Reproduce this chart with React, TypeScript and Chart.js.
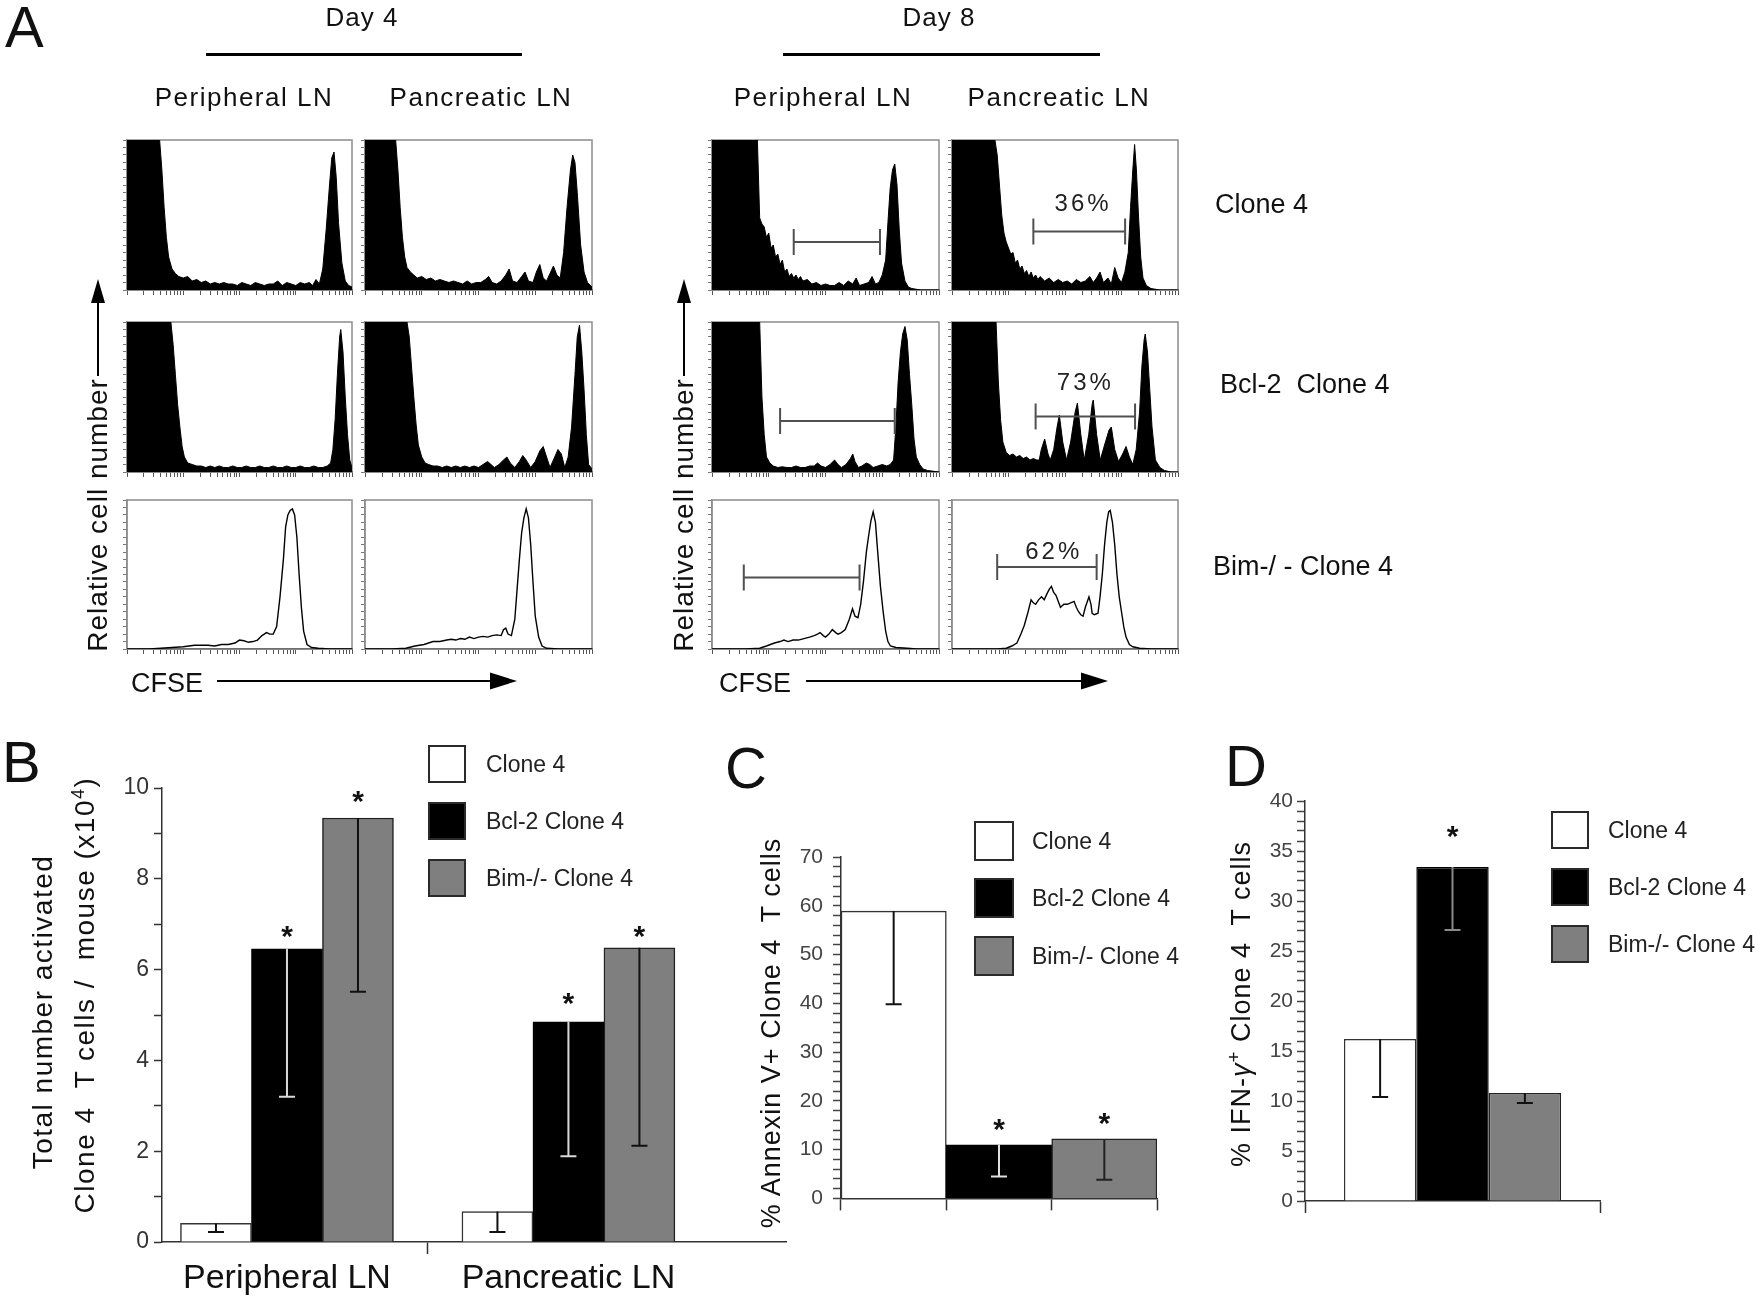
import React, { useEffect, useRef } from 'react';
import { Chart, registerables } from 'chart.js';

Chart.register(...registerables);

const FONT = '"Liberation Sans", Arial, Helvetica, sans-serif';
Chart.defaults.font.family = FONT;
Chart.defaults.color = '#333';

type Pt = [number, number];

// ---------------- Panel A: CFSE histograms ----------------
// [CFSE position (% of axis), relative cell number (% of frame height)]
const day4PeripheralClone4: Pt[] = [[0,100],[13.5,100],[14.5,100],[15.5,80],[16.5,55],[17.5,35],[18.5,22],[20,14],[21.5,11],[23,9],[25,8],[27,9],[29,6],[31,7],[33,5],[35,6],[37,4],[39,5],[41,4],[43,5],[45,4],[47,4],[49,3],[51,5],[53,4],[55,3],[57,5],[59,4],[61,3],[63,4],[65,4],[67,6],[69,3],[71,5],[73,4],[75,3],[77,5],[79,4],[81,5],[82.5,3],[84,7],[85.5,4],[87,14],[88.5,40],[90,70],[91,88],[92,92],[93,75],[94,45],[95.5,18],[97,6],[98.5,3],[100,2]];
const day4PancreaticClone4: Pt[] = [[0,100],[13.5,100],[14.5,80],[15.5,55],[16.5,35],[17.5,22],[18.5,15],[20,12],[21.5,10],[23,8],[25,9],[27,7],[29,8],[31,6],[33,7],[35,6],[37,5],[39,6],[41,5],[43,4],[45,6],[47,4],[49,5],[51,5],[53,7],[54.5,9],[56,5],[58,4],[60,6],[62,10],[63.5,14],[65,6],[67,5],[69,9],[70.5,12],[72,6],[74,5],[75.5,12],[77,17],[78.5,8],[80,6],[81.5,11],[83,16],[84.5,10],[86,8],[87.5,25],[89,55],[90.5,80],[91.5,90],[92.5,85],[93.5,65],[95,30],[96.5,12],[98,5],[100,2]];
const day4PeripheralBcl2: Pt[] = [[0,100],[19.5,100],[20.5,85],[21.5,65],[22.5,45],[23.5,30],[24.5,17],[25.5,10],[27,6],[29,5],[31,4],[33,4],[35,3],[37,4],[39,3],[41,4],[43,3],[45,3],[47,4],[49,3],[51,3],[53,4],[55,3],[57,3],[59,4],[61,3],[63,3],[65,4],[67,3],[69,3],[71,4],[73,3],[75,3],[77,4],[79,3],[81,3],[83,4],[85,3],[87,3],[89,4],[90.5,6],[91.5,15],[92.5,35],[93.5,65],[94.5,90],[95,95],[96,80],[97,50],[98,25],[99,8],[100,3]];
const day4PancreaticBcl2: Pt[] = [[0,100],[18.5,100],[19.5,90],[20.5,70],[21.5,50],[22.5,32],[23.5,18],[25,10],[26.5,6],[28,5],[30,4],[32,4],[34,3],[36,4],[38,3],[40,4],[42,3],[44,4],[46,3],[48,4],[50,3],[52,5],[54,7],[55.5,5],[57,3],[59,5],[61,8],[62.5,10],[64,6],[66,3],[68,7],[69.5,11],[71,8],[73,3],[75,7],[77,14],[78.5,17],[80,10],[81.5,3],[83,8],[85,15],[86.5,12],[88,3],[89.5,10],[91,30],[92.5,65],[93.5,90],[94.5,98],[95.5,80],[96.5,55],[97.5,25],[98.5,5],[100,2]];
const day4PeripheralBim: Pt[] = [[0,0],[10,0],[15,0.5],[20,1],[25,1.5],[30,2.5],[33,2.5],[36,2.5],[39,2],[42,3],[45,3],[48,4],[50,6],[52,5.5],[54,4.5],[56,5],[58,6],[60,9],[62,11],[63.5,10],[65,10],[66.5,15],[68,35],[69.5,60],[70.5,82],[71.5,90],[72.5,93],[73.5,94],[74.5,90],[75.5,75],[76.5,50],[77.5,28],[78.5,12],[80,3],[82,1],[85,0.5],[90,0],[100,0]];
const day4PancreaticBim: Pt[] = [[0,0],[12,0],[18,0.5],[22,2],[26,3],[30,5],[33,5],[36,6],[38,6.5],[40,6],[42,7],[44,6.5],[46,8],[48,7],[50,8],[52,8.5],[54,8],[56,9],[58,9.5],[60,9],[61,13],[62,14],[63,10],[64.5,9],[66,20],[67,40],[68,60],[69,78],[70,88],[71,94],[72,88],[73,70],[74,45],[75,22],[76.5,8],[78,2],[80,0.5],[85,0],[100,0]];
const day8PeripheralClone4: Pt[] = [[0,100],[19,100],[20,100],[21,48],[22,44],[23,42],[24,35],[25,38],[26,28],[27,30],[28,22],[29,24],[30,17],[31,20],[32,12],[33,14],[34,9],[35,11],[36,8],[37,10],[38,7],[39,9],[40,6],[42,7],[44,4],[46,5],[48,3],[50,4],[52,3],[54,3],[56,5],[58,3],[60,6],[62,4],[63.5,8],[65,3],[67,4],[69,5],[70.5,9],[72,4],[73.5,5],[75,10],[76.5,20],[77.5,45],[78.5,68],[79.5,80],[80.5,84],[81.5,70],[82.5,40],[83.5,18],[85,6],[86.5,2],[88,1],[92,0],[100,0]];
const day8PancreaticClone4: Pt[] = [[0,100],[19,100],[20,90],[21,70],[22,50],[23,38],[24,32],[25,28],[26,24],[27,25],[28,18],[29,20],[30,14],[31,16],[32,11],[33,13],[34,9],[35,12],[36,8],[37,10],[38,7],[39,9],[41,6],[43,8],[45,5],[47,7],[49,5],[51,6],[53,4],[55,7],[57,5],[59,6],[61,9],[62.5,5],[64,8],[65.5,12],[67,5],[69,8],[70.5,4],[72,15],[73.5,8],[75,5],[76.5,12],[78,25],[79,55],[80,80],[80.8,97],[81.6,80],[82.5,50],[83.5,22],[84.5,8],[86,3],[88,1],[92,0],[100,0]];
const day8PeripheralBcl2: Pt[] = [[0,100],[20,100],[21,100],[22,50],[23,25],[24,10],[25.5,6],[27,4],[29,3],[31,3.5],[33,3],[35,3],[37,4],[39,3],[41,3],[43,4],[45,4],[46.5,6],[48,4],[50,3],[52,5],[54,8],[55.5,5],[57,3],[59,5],[61,9],[62,12],[63,7],[64.5,3],[66,4],[68,6],[69.5,5],[71,3],[73,4],[75,5],[77,4],[78.5,5],[80,8],[81,30],[82,60],[83,80],[84,92],[85,97],[86,88],[87,65],[88,45],[89,22],[90,10],[91.5,5],[93,2],[95,1],[100,0]];
const day8PancreaticBcl2: Pt[] = [[0,100],[19.5,100],[20.5,60],[21.5,35],[22.5,20],[24,13],[25.5,11],[27,12],[28.5,10],[30,11],[31.5,9],[33,10],[34.5,8],[36,9],[37.5,8],[38.6,8],[39.5,15],[41,22],[42.5,12],[43.5,8],[45,15],[46.5,30],[47.5,38],[49,20],[50.7,8],[52.5,20],[54.5,40],[55.5,46],[57,25],[58.5,8],[60.5,25],[62,45],[62.5,48],[64,25],[65.6,8],[67.5,18],[69.5,28],[70.5,30],[72,15],[73.7,7],[75.5,12],[77,17],[78.5,10],[80,5],[81.5,15],[83,40],[84,70],[85,88],[85.5,92],[86.5,80],[87.5,55],[88.5,30],[90,8],[92,3],[94,1],[97,0],[100,0]];
const day8PeripheralBim: Pt[] = [[0,0],[15,0],[21,0.5],[24,2],[27.5,4],[30,5],[31.7,6],[33.5,5],[35.7,6],[38,6],[40.5,7],[43,8],[45,9],[46.5,10],[47.6,11],[49,9],[50,8],[51.5,10],[53,13],[54.5,11],[55.5,10],[57,11],[58.7,13],[60.5,20],[61.9,27],[63,22],[64.3,21],[65.5,30],[66.7,45],[68,65],[69,76],[70,86],[71,92],[72,85],[73,65],[74.2,42],[75.4,25],[76.5,12],[77.5,5],[78.6,2],[81,1],[86,0.5],[90,0],[100,0]];
const day8PancreaticBim: Pt[] = [[0,0],[20,0],[24,0.5],[26.5,2],[28.7,4],[30.5,10],[32,16],[33.5,24],[35,33],[36,31],[37,30],[38.3,33],[39.6,35],[40.8,33],[42,37],[43,40],[44,42],[45,38],[46,36],[47,32],[48,28],[49.5,30],[51,30],[52.5,31],[54,32],[55,28],[56,25],[57,23],[58,22],[59,28],[60.6,35],[61.5,30],[62,24],[63,23],[64.6,24],[65.5,35],[66.5,50],[67.5,70],[68.5,85],[69.3,92],[70,93],[71,85],[72,70],[73,50],[74,35],[75,25],[76,15],[77,8],[78.5,3],[80,1.5],[83,0.5],[88,0],[100,0]];

interface Gate { from: number; to: number; level: number; label: string; labelX: number; labelY: number }
const day8PeripheralClone4Gate: Gate = { from: 36, to: 74, level: 32, label: '', labelX: 0, labelY: 0 };
const day8PancreaticClone4Gate: Gate = { from: 36, to: 76.6, level: 39, label: '36%', labelX: 58, labelY: 57 };
const day8PeripheralBcl2Gate: Gate = { from: 30, to: 80.5, level: 34, label: '', labelX: 0, labelY: 0 };
const day8PancreaticBcl2Gate: Gate = { from: 37, to: 81, level: 37, label: '73%', labelX: 59, labelY: 59 };
const day8PeripheralBimGate: Gate = { from: 14, to: 65, level: 48, label: '', labelX: 0, labelY: 0 };
const day8PancreaticBimGate: Gate = { from: 20, to: 64, level: 55, label: '62%', labelX: 45, labelY: 65 };

// ---------------- Panel B ----------------
const bLocations = ['Peripheral LN', 'Pancreatic LN'];
const bClone4 = [0.41, 0.67];
const bClone4Low = [0.22, 0.22];
const bBcl2 = [6.46, 4.85];
const bBcl2Low = [3.2, 1.89];
const bBim = [9.34, 6.48];
const bBimLow = [5.51, 2.12];
const bBcl2Star = [6.9, 5.41];
const bBimStar = [9.88, 6.9];

// ---------------- Panel C ----------------
const cGroups = ['Clone 4', 'Bcl-2 Clone 4', 'Bim-/- Clone 4'];
const cValues = [58.9, 11.0, 12.2];
const cLow = [39.8, 4.5, 3.8];
const cStars = [null, 15.6, 16.9];

// ---------------- Panel D ----------------
const dCategory = [''];
const dClone4 = [16.2];
const dClone4Low = [10.4];
const dBcl2 = [33.4];
const dBcl2Low = [27.1];
const dBim = [10.8];
const dBimLow = [9.8];
const dBcl2Star = [37.2];

const legendLabels = ['Clone 4', 'Bcl-2 Clone 4', 'Bim-/- Clone 4'];

// log-decade tick marks for the CFSE axis (4 decades)
const cfseTicks: number[] = [];
for (let d = 0; d < 4; d++) for (let m = 1; m < 10; m++) cfseTicks.push(25 * (d + Math.log10(m)));
cfseTicks.push(100);

// ---------------- plugins ----------------
const framePlugin = {
  id: 'frame',
  beforeDatasetsDraw(chart: any, _a: any, opts: any) {
    if (!opts || !opts.color) return;
    const { ctx, chartArea: a } = chart;
    ctx.save();
    ctx.strokeStyle = opts.color;
    ctx.lineWidth = opts.width || 1.5;
    ctx.strokeRect(a.left, a.top, a.right - a.left, a.bottom - a.top);
    ctx.restore();
  },
};

const gatePlugin = {
  id: 'gate',
  afterDatasetsDraw(chart: any) {
    const ds: any = chart.data.datasets[0];
    const g: Gate | null = ds && ds.gate;
    if (!g) return;
    const { ctx } = chart;
    const xs = chart.scales.x, ys = chart.scales.y;
    const x1 = xs.getPixelForValue(g.from), x2 = xs.getPixelForValue(g.to), yy = ys.getPixelForValue(g.level);
    ctx.save();
    ctx.strokeStyle = '#505050';
    ctx.lineWidth = 2;
    ctx.beginPath();
    ctx.moveTo(x1, yy); ctx.lineTo(x2, yy);
    ctx.moveTo(x1, yy - 13); ctx.lineTo(x1, yy + 13);
    ctx.moveTo(x2, yy - 13); ctx.lineTo(x2, yy + 13);
    ctx.stroke();
    if (g.label) {
      ctx.fillStyle = '#222';
      ctx.font = `24px ${FONT}`;
      try { (ctx as any).letterSpacing = '3px'; } catch (e) { /* ignore */ }
      ctx.textAlign = 'center';
      ctx.textBaseline = 'middle';
      ctx.fillText(g.label, xs.getPixelForValue(g.labelX), ys.getPixelForValue(g.labelY));
    }
    ctx.restore();
  },
};

const errPlugin = {
  id: 'errbars',
  afterDatasetsDraw(chart: any) {
    const { ctx } = chart;
    const ys = chart.scales.y;
    chart.data.datasets.forEach((ds: any, di: number) => {
      const meta = chart.getDatasetMeta(di);
      meta.data.forEach((bar: any, i: number) => {
        const low = ds.errLow ? ds.errLow[i] : null;
        const col = Array.isArray(ds.errColor) ? ds.errColor[i] : ds.errColor;
        ctx.save();
        if (low !== null && low !== undefined) {
          const yl = ys.getPixelForValue(low);
          ctx.strokeStyle = col || '#111';
          ctx.lineWidth = 2;
          ctx.beginPath();
          ctx.moveTo(bar.x, bar.y);
          ctx.lineTo(bar.x, yl);
          ctx.moveTo(bar.x - 8, yl);
          ctx.lineTo(bar.x + 8, yl);
          ctx.stroke();
        }
        const st = ds.stars ? ds.stars[i] : null;
        if (st !== null && st !== undefined) {
          const F = 30;
          ctx.fillStyle = '#111';
          ctx.font = `bold ${F}px ${FONT}`;
          ctx.textAlign = 'center';
          ctx.textBaseline = 'alphabetic';
          ctx.fillText('*', bar.x, ys.getPixelForValue(st) + 0.57 * F);
        }
        ctx.restore();
      });
    });
  },
};

// ---------------- chart configs ----------------
function histConfig(points: Pt[], filled: boolean, gate: Gate | null): any {
  return {
    type: 'line',
    data: {
      datasets: [{
        data: points.map(([x, y]) => ({ x, y })),
        borderColor: '#000',
        backgroundColor: '#000',
        borderWidth: filled ? 1 : 1.4,
        fill: filled ? 'origin' : false,
        pointRadius: 0,
        tension: 0,
        gate,
      }],
    },
    options: {
      animation: false, responsive: false, devicePixelRatio: 1, events: [],
      layout: { padding: { top: 2, right: 2, left: 0, bottom: 0 } },
      plugins: { legend: { display: false }, tooltip: { enabled: false }, frame: { color: '#8c8c8c', width: 1.5 } },
      scales: {
        x: {
          type: 'linear', min: 0, max: 100,
          afterBuildTicks: (s: any) => { s.ticks = cfseTicks.map((v) => ({ value: v })); },
          ticks: { display: false, autoSkip: false },
          grid: { drawOnChartArea: false, tickLength: 5, color: '#555' },
          border: { color: '#111', width: 1.5 },
          afterFit: (s: any) => { s.height = 6; },
        },
        y: {
          min: 0, max: 100,
          ticks: { display: false, stepSize: 5, autoSkip: false },
          grid: { drawOnChartArea: false, tickLength: 4, color: '#777' },
          border: { color: '#8c8c8c', width: 1.5 },
          afterFit: (s: any) => { s.width = 5; },
        },
      },
    },
    plugins: [framePlugin, gatePlugin],
  };
}

function panelBConfig(): any {
  const pts = (arr: number[]) => arr.map((v, i) => ({ x: i + 1, y: v }));
  return {
    type: 'bar',
    data: {
      datasets: [
        { label: legendLabels[0], data: pts(bClone4), backgroundColor: '#fff', borderColor: '#333', borderWidth: 1.5, errLow: bClone4Low, errColor: '#111' },
        { label: legendLabels[1], data: pts(bBcl2), backgroundColor: '#000', borderColor: '#000', borderWidth: 1.5, errLow: bBcl2Low, errColor: '#d9d9d9', stars: bBcl2Star },
        { label: legendLabels[2], data: pts(bBim), backgroundColor: '#7f7f7f', borderColor: '#222', borderWidth: 1.5, errLow: bBimLow, errColor: '#111', stars: bBimStar },
      ],
    },
    options: {
      animation: false, responsive: false, devicePixelRatio: 1, events: [],
      layout: { padding: { top: 38, right: 10, left: 0, bottom: 0 } },
      datasets: { bar: { barThickness: 71 } },
      plugins: { legend: { display: false }, tooltip: { enabled: false } },
      scales: {
        x: {
          type: 'linear', min: 0.556, max: 2.773, offset: false,
          afterBuildTicks: (s: any) => { s.ticks = [{ value: 1 }, { value: 1.5 }, { value: 2 }]; },
          ticks: {
            autoSkip: false, maxRotation: 0, padding: 4, color: '#111', font: { size: 34 },
            callback: (v: any) => (Number.isInteger(v) ? bLocations[v - 1] : ''),
          },
          grid: {
            offset: false, drawOnChartArea: false, tickLength: 12, tickWidth: 1.5,
            tickColor: (c: any) => (c.tick && c.tick.value === 1.5 ? '#333' : 'rgba(0,0,0,0)'),
          },
          border: { color: '#333', width: 1.5 },
          afterFit: (s: any) => { s.height = 60; },
        },
        y: {
          min: 0, max: 10,
          ticks: { stepSize: 1, autoSkip: false, padding: 5, color: '#333', font: { size: 23 }, callback: (v: any) => (v % 2 === 0 ? String(v) : '') },
          grid: { drawOnChartArea: false, tickLength: 8, tickWidth: 1.5, tickColor: '#333' },
          border: { color: '#333', width: 1.5 },
          afterFit: (s: any) => { s.width = 80; },
        },
      },
    },
    plugins: [errPlugin],
  };
}

function panelCConfig(): any {
  return {
    type: 'bar',
    data: {
      labels: cGroups,
      datasets: [{
        data: cValues,
        backgroundColor: ['#fff', '#000', '#7f7f7f'],
        borderColor: ['#333', '#000', '#222'],
        borderWidth: 1.5,
        categoryPercentage: 1, barPercentage: 1,
        errLow: cLow, errColor: ['#111', '#e0e0e0', '#222'], stars: cStars,
      }],
    },
    options: {
      animation: false, responsive: false, devicePixelRatio: 1, events: [],
      layout: { padding: { top: 37, right: 8, left: 0, bottom: 0 } },
      plugins: { legend: { display: false }, tooltip: { enabled: false } },
      scales: {
        x: {
          ticks: { callback: () => '' },
          grid: { offset: true, drawOnChartArea: false, tickLength: 12, tickWidth: 1.5, tickColor: '#333' },
          border: { color: '#333', width: 1.5 },
          afterFit: (s: any) => { s.height = 20; },
        },
        y: {
          min: 0, max: 70,
          ticks: { stepSize: 2, autoSkip: false, padding: 10, color: '#444', font: { size: 21 }, callback: (v: any) => (v % 10 === 0 ? String(v) : '') },
          grid: { drawOnChartArea: false, tickLength: 8, tickWidth: 1.5, tickColor: '#444' },
          border: { color: '#333', width: 1.5 },
          afterFit: (s: any) => { s.width = 70; },
        },
      },
    },
    plugins: [errPlugin],
  };
}

function panelDConfig(): any {
  return {
    type: 'bar',
    data: {
      labels: dCategory,
      datasets: [
        { label: legendLabels[0], data: dClone4, backgroundColor: '#fff', borderColor: '#333', borderWidth: 1.5, errLow: dClone4Low, errColor: '#111' },
        { label: legendLabels[1], data: dBcl2, backgroundColor: '#000', borderColor: '#000', borderWidth: 1.5, errLow: dBcl2Low, errColor: '#8a8a8a', stars: dBcl2Star },
        { label: legendLabels[2], data: dBim, backgroundColor: '#7f7f7f', borderColor: '#222', borderWidth: 1.5, errLow: dBimLow, errColor: '#111' },
      ],
    },
    options: {
      animation: false, responsive: false, devicePixelRatio: 1, events: [],
      layout: { padding: { top: 36, right: 10, left: 0, bottom: 0 } },
      datasets: { bar: { categoryPercentage: 0.736, barPercentage: 1 } },
      plugins: { legend: { display: false }, tooltip: { enabled: false } },
      scales: {
        x: {
          ticks: { callback: () => '' },
          grid: { offset: true, drawOnChartArea: false, tickLength: 12, tickWidth: 1.5, tickColor: '#333' },
          border: { color: '#333', width: 1.5 },
          afterFit: (s: any) => { s.height = 20; },
        },
        y: {
          min: 0, max: 40,
          ticks: { stepSize: 1, autoSkip: false, padding: 4, color: '#444', font: { size: 21 }, callback: (v: any) => (v % 5 === 0 ? String(v) : '') },
          grid: { drawOnChartArea: false, tickLength: 8, tickWidth: 1.5, tickColor: '#444' },
          border: { color: '#333', width: 1.5 },
          afterFit: (s: any) => { s.width = 70; },
        },
      },
    },
    plugins: [errPlugin],
  };
}

// ---------------- layout helpers ----------------
const COLS = [[127, 352], [365, 592], [712, 939], [952, 1178]];
const ROWS = [[140, 290], [322, 472], [500, 649]];

const histPanels = [
  { pts: day4PeripheralClone4, filled: true, gate: null, col: 0, row: 0 },
  { pts: day4PancreaticClone4, filled: true, gate: null, col: 1, row: 0 },
  { pts: day8PeripheralClone4, filled: true, gate: day8PeripheralClone4Gate, col: 2, row: 0 },
  { pts: day8PancreaticClone4, filled: true, gate: day8PancreaticClone4Gate, col: 3, row: 0 },
  { pts: day4PeripheralBcl2, filled: true, gate: null, col: 0, row: 1 },
  { pts: day4PancreaticBcl2, filled: true, gate: null, col: 1, row: 1 },
  { pts: day8PeripheralBcl2, filled: true, gate: day8PeripheralBcl2Gate, col: 2, row: 1 },
  { pts: day8PancreaticBcl2, filled: true, gate: day8PancreaticBcl2Gate, col: 3, row: 1 },
  { pts: day4PeripheralBim, filled: false, gate: null, col: 0, row: 2 },
  { pts: day4PancreaticBim, filled: false, gate: null, col: 1, row: 2 },
  { pts: day8PeripheralBim, filled: false, gate: day8PeripheralBimGate, col: 2, row: 2 },
  { pts: day8PancreaticBim, filled: false, gate: day8PancreaticBimGate, col: 3, row: 2 },
];

function ChartBox({ left, top, width, height, build }: any) {
  const ref = useRef<HTMLCanvasElement | null>(null);
  useEffect(() => {
    if (!ref.current) return;
    const chart = new Chart(ref.current, build());
    return () => chart.destroy();
  }, []);
  return (
    <canvas
      ref={ref}
      width={width}
      height={height}
      style={{ position: 'absolute', left, top, width: width + 'px', height: height + 'px' }}
    />
  );
}

function Txt({ x, y, size, children, align = 'center', ls = 0, color = '#111', rotate = false }: any) {
  const tx = rotate
    ? 'translate(-50%,-50%) rotate(-90deg)'
    : align === 'left' ? 'translate(0,-50%)' : 'translate(-50%,-50%)';
  return (
    <div style={{ position: 'absolute', left: x, top: y, fontSize: size, lineHeight: 1, letterSpacing: ls, whiteSpace: 'nowrap', color, transform: tx }}>
      {children}
    </div>
  );
}

function Letter({ x, y, children }: any) {
  return <div style={{ position: 'absolute', left: x, top: y, fontSize: 58, lineHeight: 1, color: '#111' }}>{children}</div>;
}

function Legend({ x, tops, size, textX, font }: any) {
  const fills = ['#fff', '#000', '#7f7f7f'];
  return (
    <>
      {legendLabels.map((lab, i) => (
        <React.Fragment key={lab}>
          <div style={{ position: 'absolute', left: x, top: tops[i], width: size, height: size, boxSizing: 'border-box', background: fills[i], border: '2px solid #2a2a2a' }} />
          <Txt x={textX} y={tops[i] + size / 2} size={font} align="left" color="#222">{lab}</Txt>
        </React.Fragment>
      ))}
    </>
  );
}

export default function App() {
  return (
    <div style={{ position: 'absolute', left: 0, top: 0, width: 1761, height: 1303, background: '#fff', overflow: 'hidden', fontFamily: FONT, color: '#111' }}>
      {histPanels.map((p, i) => {
        const [l, r] = COLS[p.col];
        const [t, b] = ROWS[p.row];
        return (
          <ChartBox key={'h' + i} left={l - 5} top={t - 2} width={r - l + 7} height={b - t + 8}
            build={() => histConfig(p.pts, p.filled, p.gate)} />
        );
      })}
      <ChartBox left={82} top={750} width={714} height={552} build={panelBConfig} />
      <ChartBox left={771} top={820} width={394} height={401} build={panelCConfig} />
      <ChartBox left={1235} top={765} width={375} height={456} build={panelDConfig} />

      <svg width={1761} height={1303} style={{ position: 'absolute', left: 0, top: 0 }}>
        <line x1={206} y1={54.5} x2={522} y2={54.5} stroke="#000" strokeWidth={3} />
        <line x1={783} y1={54.5} x2={1100} y2={54.5} stroke="#000" strokeWidth={3} />
        <line x1={98} y1={300} x2={98} y2={376} stroke="#000" strokeWidth={2} />
        <polygon points="98,279 91,303 105,303" fill="#000" />
        <line x1={684} y1={300} x2={684} y2={376} stroke="#000" strokeWidth={2} />
        <polygon points="684,279 677,303 691,303" fill="#000" />
        <line x1={217} y1={681} x2={494} y2={681} stroke="#000" strokeWidth={2} />
        <polygon points="517,681 490,672.5 490,689.5" fill="#000" />
        <line x1={806} y1={681} x2={1085} y2={681} stroke="#000" strokeWidth={2} />
        <polygon points="1108,681 1081,672.5 1081,689.5" fill="#000" />
      </svg>

      <Letter x={5} y={-2}>A</Letter>
      <Letter x={2} y={733}>B</Letter>
      <Letter x={725} y={739}>C</Letter>
      <Letter x={1225} y={737}>D</Letter>

      <Txt x={362} y={17} size={26} ls={1}>Day 4</Txt>
      <Txt x={939} y={17} size={26} ls={1}>Day 8</Txt>
      <Txt x={244} y={97} size={26} ls={1.5}>Peripheral LN</Txt>
      <Txt x={481} y={97} size={26} ls={1.5}>Pancreatic LN</Txt>
      <Txt x={823} y={97} size={26} ls={1.5}>Peripheral LN</Txt>
      <Txt x={1059} y={97} size={26} ls={1.5}>Pancreatic LN</Txt>

      <Txt x={1215} y={204} size={27} align="left">Clone 4</Txt>
      <Txt x={1220} y={384} size={27} align="left">Bcl-2&nbsp; Clone 4</Txt>
      <Txt x={1213} y={566} size={27} align="left">Bim-/ - Clone 4</Txt>

      <Txt x={98} y={515} size={28} ls={1} rotate>Relative cell number</Txt>
      <Txt x={684} y={515} size={28} ls={1} rotate>Relative cell number</Txt>
      <Txt x={131} y={683} size={27} align="left">CFSE</Txt>
      <Txt x={719} y={683} size={27} align="left">CFSE</Txt>

      <Txt x={43} y={1012} size={28} ls={1.5} rotate>Total number activated</Txt>
      <Txt x={84} y={995} size={28} ls={1.5} rotate>Clone 4&nbsp; T cells /&nbsp; mouse (x10<sup style={{ fontSize: '0.65em' }}>4</sup>)</Txt>
      <Txt x={771} y={1033} size={27} ls={1} rotate>% Annexin V+ Clone 4&nbsp; T cells</Txt>
      <Txt x={1240} y={1004} size={27} ls={1} rotate>% IFN-<span style={{ fontStyle: 'italic' }}>γ</span><sup style={{ fontSize: '0.7em' }}>+</sup> Clone 4&nbsp; T cells</Txt>

      <Legend x={428} tops={[745, 802, 859]} size={38} textX={486} font={23} />
      <Legend x={974} tops={[821, 878, 936]} size={40} textX={1032} font={23} />
      <Legend x={1551} tops={[811, 868, 925]} size={38} textX={1608} font={23} />
    </div>
  );
}
